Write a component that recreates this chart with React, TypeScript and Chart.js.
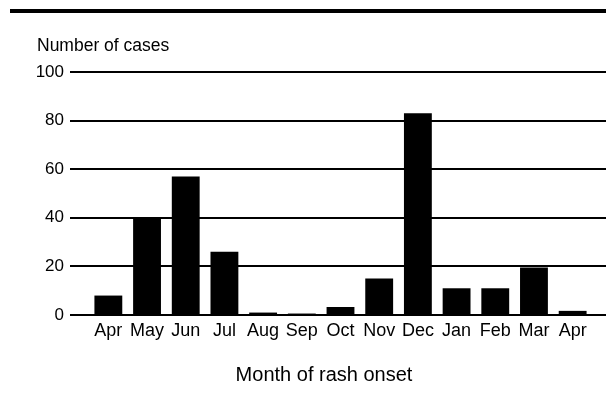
import React, { useEffect, useRef } from "react";
import { Chart, registerables } from "chart.js";

Chart.register(...registerables);

const months = ["Apr", "May", "Jun", "Jul", "Aug", "Sep", "Oct", "Nov", "Dec", "Jan", "Feb", "Mar", "Apr"];
const cases = [8, 40, 57, 26, 1, 0.6, 3.3, 15, 83, 11, 11, 19.5, 1.7];
const yTicks = [0, 20, 40, 60, 80, 100];
const yTitle = "Number of cases";
const xTitle = "Month of rash onset";

const FONT = "'Liberation Sans', Arial, Helvetica, sans-serif";

const decorPlugin = {
  id: "decor",
  beforeDatasetsDraw(chart: any) {
    const ctx = chart.ctx;
    const y = chart.scales.y;
    ctx.save();
    ctx.strokeStyle = "#000";
    ctx.lineWidth = 2;
    yTicks.forEach((v) => {
      const py = Math.round(y.getPixelForValue(v));
      ctx.beginPath();
      ctx.moveTo(70, py);
      ctx.lineTo(chart.width, py);
      ctx.stroke();
    });
    // top rule
    ctx.lineWidth = 4;
    ctx.beginPath();
    ctx.moveTo(10, 11);
    ctx.lineTo(chart.width, 11);
    ctx.stroke();
    ctx.fillStyle = "#000";
    ctx.textBaseline = "middle";
    ctx.textAlign = "left";
    ctx.font = `17.5px ${FONT}`;
    ctx.fillText(yTitle, 37, 46);
    ctx.textAlign = "center";
    ctx.font = `20px ${FONT}`;
    ctx.fillText(xTitle, 324, 375);
    ctx.restore();
  },
};

export default function App() {
  const ref = useRef<HTMLCanvasElement>(null);
  useEffect(() => {
    if (!ref.current) return;
    const chart = new Chart(ref.current, {
      type: "bar",
      data: {
        labels: months,
        datasets: [
          {
            data: cases,
            backgroundColor: "#000",
            borderWidth: 0,
            barPercentage: 0.72,
            categoryPercentage: 1,
          },
        ],
      },
      options: {
        responsive: false,
        animation: false,
        layout: { padding: { left: 29, right: 14, top: 72, bottom: 62 } },
        plugins: { legend: { display: false }, tooltip: { enabled: false } },
        scales: {
          x: {
            grid: { display: false },
            border: { display: false },
            ticks: {
              color: "#000",
              font: { family: FONT, size: 18 },
              padding: -3,
              maxRotation: 0,
              autoSkip: false,
            },
            afterFit: (s: any) => {
              s.height = 30;
            },
          },
          y: {
            min: 0,
            max: 100,
            grid: { display: false },
            border: { display: false },
            afterBuildTicks: (s: any) => {
              s.ticks = yTicks.map((v) => ({ value: v }));
            },
            ticks: {
              color: "#000",
              font: { family: FONT, size: 17 },
              padding: 17,
            },
            afterFit: (s: any) => {
              s.width = 60;
            },
          },
        },
      },
      plugins: [decorPlugin],
    });
    return () => chart.destroy();
  }, []);
  return (
    <div style={{ position: "fixed", left: 0, top: 0, width: 606, height: 407, background: "#fff" }}>
      <canvas ref={ref} width={606} height={407} />
    </div>
  );
}
